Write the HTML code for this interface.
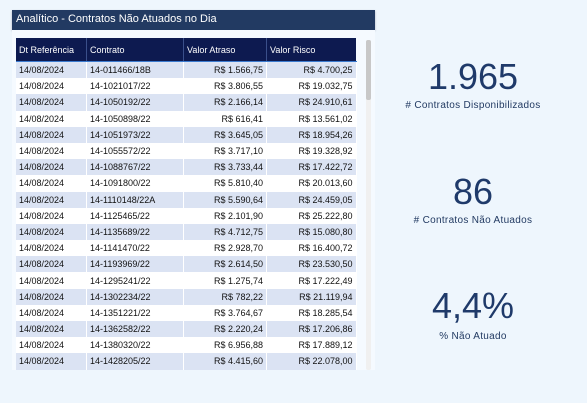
<!DOCTYPE html>
<html><head><meta charset="utf-8"><style>
body{margin:0;width:587px;height:403px;background:#eef6fd;font-family:"Liberation Sans",sans-serif;position:relative;overflow:hidden}
.title{position:absolute;left:12px;top:10px;width:363px;height:20px;background:#223a62;color:#fff;font-size:11px;line-height:19px;padding-left:4px;box-sizing:border-box;box-shadow:0 1px 2px #aab}
.panel{position:absolute;left:12px;top:30px;width:363px;height:340px;background:#f5faff}
table{position:absolute;left:16px;top:38px;border-collapse:collapse;font-size:9px;color:#111}
th{background:#0d1a50;color:#fff;font-weight:normal;text-align:left;height:23px;padding:0 3px;border-right:1px solid #3a4f8a;border-bottom:1px solid #3b7bd0}
td{height:16.2px;padding:0 3px;white-space:nowrap;border-right:1px solid #fff}
tr:nth-child(odd) td{background:#dbe3f3}
tr:nth-child(even) td{background:#fff}
td.r{text-align:right}
.sb{position:absolute;left:366px;top:40px;width:5px;height:60px;background:#c8c8c8;border-radius:2px}
.sbt{position:absolute;left:366px;top:40px;width:5px;height:330px;background:#f0f0f0;border-radius:2px}
.kpi{position:absolute;left:373px;width:200px;text-align:center;color:#1f3a6a}
.kpi .v{font-size:36px;line-height:40px}
.kpi .l{font-size:10px;color:#223a62;margin-top:3px;letter-spacing:0.3px}
</style></head><body>
<div class="title">Analítico - Contratos Não Atuados no Dia</div>
<div class="panel"></div>
<table>
<thead><tr><th style="width:64px">Dt Referência</th><th style="width:90px">Contrato</th><th style="width:76px">Valor Atraso</th><th style="width:83px;border-right:none">Valor Risco</th></tr></thead>
<tbody id="tb"></tbody></table>
<div class="sbt"></div>
<div class="sb"></div>
<div class="kpi" style="top:57px"><div class="v">1.965</div><div class="l"># Contratos Disponibilizados</div></div>
<div class="kpi" style="top:172px"><div class="v">86</div><div class="l"># Contratos Não Atuados</div></div>
<div class="kpi" style="top:286px"><div class="v">4,4%</div><div class="l" style="margin-top:5px">% Não Atuado</div></div>
<script>
const contratos=["14-011466/18B","14-1021017/22","14-1050192/22","14-1050898/22","14-1051973/22","14-1055572/22","14-1088767/22","14-1091800/22","14-1110148/22A","14-1125465/22","14-1135689/22","14-1141470/22","14-1193969/22","14-1295241/22","14-1302234/22","14-1351221/22","14-1362582/22","14-1380320/22","14-1428205/22"];
const atraso=["1.566,75","3.806,55","2.166,14","616,41","3.645,05","3.717,10","3.733,44","5.810,40","5.590,64","2.101,90","4.712,75","2.928,70","2.614,50","1.275,74","782,22","3.764,67","2.220,24","6.956,88","4.415,60"];
const risco=["4.700,25","19.032,75","24.910,61","13.561,02","18.954,26","19.328,92","17.422,72","20.013,60","24.459,05","25.222,80","15.080,80","16.400,72","23.530,50","17.222,49","21.119,94","18.285,54","17.206,86","17.889,12","22.078,00"];
const tb=document.getElementById('tb');
contratos.forEach((c,i)=>{
 const tr=document.createElement('tr');
 
 
 tr.innerHTML='<td>14/08/2024</td><td>'+c+'</td><td class="r">R$ '+atraso[i]+'</td><td class="r">R$ '+risco[i]+'</td>';
 tb.appendChild(tr);
});
</script>
</body></html>
